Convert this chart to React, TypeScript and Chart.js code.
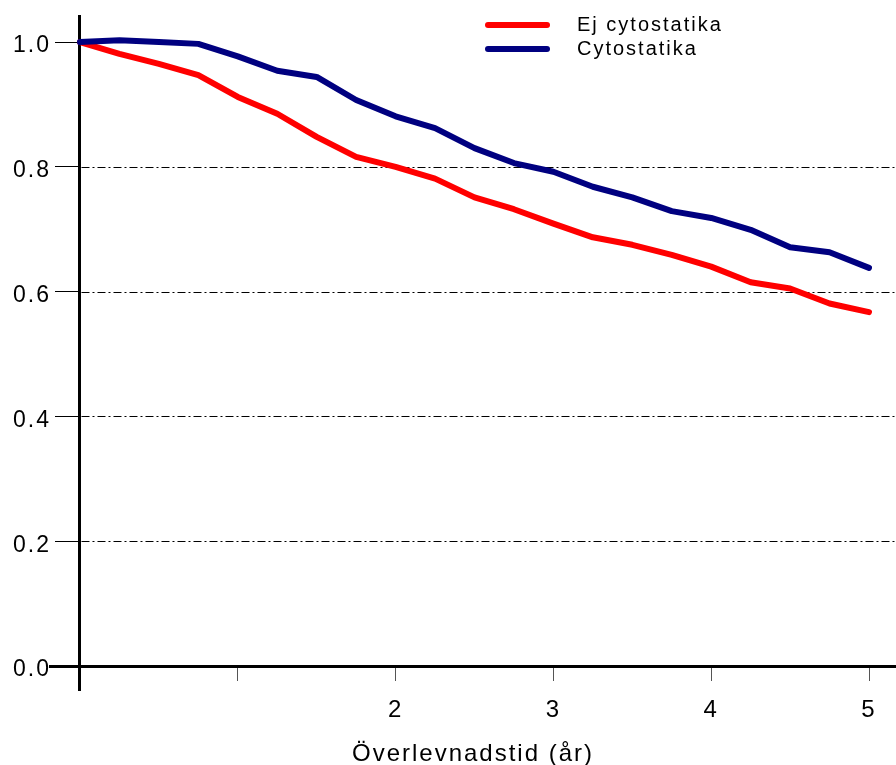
import { useEffect, useRef } from 'react';
import { Chart, registerables } from 'chart.js';

Chart.register(...registerables);

// ---- data ----
const YEARS = [0, 0.25, 0.5, 0.75, 1, 1.25, 1.5, 1.75, 2, 2.25, 2.5, 2.75, 3, 3.25, 3.5, 3.75, 4, 4.25, 4.5, 4.75, 5];
const EJ_CYTOSTATIKA = [1.0, 0.981, 0.965, 0.947, 0.912, 0.885, 0.848, 0.816, 0.8, 0.781, 0.751, 0.732, 0.709, 0.687, 0.675, 0.659, 0.64, 0.615, 0.605, 0.581, 0.567];
const CYTOSTATIKA = [1.0, 1.003, 1.0, 0.997, 0.977, 0.954, 0.944, 0.907, 0.881, 0.862, 0.83, 0.806, 0.792, 0.768, 0.751, 0.729, 0.718, 0.699, 0.671, 0.663, 0.638];
const SERIES_LABELS = ['Ej cytostatika', 'Cytostatika'];
const SERIES_COLORS = ['#ff0000', '#000080'];
const X_TICKS = [0, 1, 2, 3, 4, 5];
const X_TICK_LABELS = ['', '', '2', '3', '4', '5'];
const Y_TICKS = [0, 0.2, 0.4, 0.6, 0.8, 1.0];
const Y_TICK_LABELS = ['0.0', '0.2', '0.4', '0.6', '0.8', '1.0'];
const Y_GRID = [0.2, 0.4, 0.6, 0.8];
const X_TITLE = 'Överlevnadstid (år)';

const FONT = "'Liberation Sans', Arial, Helvetica, sans-serif";
const Y_MIN = -0.03846;
const Y_MAX = 1.04167;
const X_MIN = -0.1901;
const X_MAX = 5.1711;

const spacingPlugin = {
  id: 'spacing',
  beforeDraw(chart: any) {
    chart.ctx.letterSpacing = '2px';
  },
};

const dashGridPlugin = {
  id: 'dashGrid',
  beforeDatasetsDraw(chart: any) {
    const { ctx, chartArea, scales } = chart;
    const x0 = scales.x.getPixelForValue(0) + 1.5;
    ctx.save();
    ctx.strokeStyle = '#000';
    ctx.lineWidth = 1;
    ctx.setLineDash([8, 3, 2, 3]);
    Y_GRID.forEach((v) => {
      const y = Math.round(scales.y.getPixelForValue(v)) + 0.5;
      ctx.beginPath();
      ctx.moveTo(x0, y);
      ctx.lineTo(chartArea.right, y);
      ctx.stroke();
    });
    ctx.restore();
  },
};

const insideLegendPlugin = {
  id: 'insideLegend',
  afterDatasetsDraw(chart: any) {
    const { ctx, chartArea } = chart;
    ctx.save();
    ctx.font = `20px ${FONT}`;
    (ctx as any).letterSpacing = '2px';
    ctx.textAlign = 'left';
    ctx.textBaseline = 'alphabetic';
    ctx.fillStyle = '#000';
    chart.data.datasets.forEach((ds: any, i: number) => {
      const cy = chartArea.top + 9 + i * 24;
      ctx.strokeStyle = ds.borderColor;
      ctx.lineWidth = 6;
      ctx.lineCap = 'round';
      ctx.beginPath();
      ctx.moveTo(chartArea.right - 408, cy);
      ctx.lineTo(chartArea.right - 349, cy);
      ctx.stroke();
      ctx.fillText(ds.label, chartArea.right - 319, cy + 5.5);
    });
    ctx.restore();
  },
};

const noPad = (s: any) => {
  s.paddingTop = 0;
  s.paddingBottom = 0;
  s.paddingLeft = 0;
  s.paddingRight = 0;
};

export default function App() {
  const ref = useRef<HTMLCanvasElement | null>(null);

  useEffect(() => {
    if (!ref.current) return;
    Chart.defaults.font.family = FONT;
    Chart.defaults.color = '#000';
    const chart = new Chart(ref.current, {
      type: 'line',
      data: {
        datasets: [
          {
            label: SERIES_LABELS[0],
            data: YEARS.map((x, i) => ({ x, y: EJ_CYTOSTATIKA[i] })),
            borderColor: SERIES_COLORS[0],
            backgroundColor: SERIES_COLORS[0],
            borderWidth: 6,
            pointRadius: 0,
            tension: 0,
            borderJoinStyle: 'round',
            borderCapStyle: 'round',
            yAxisID: 'y',
            order: 2,
          },
          {
            label: SERIES_LABELS[1],
            data: YEARS.map((x, i) => ({ x, y: CYTOSTATIKA[i] })),
            borderColor: SERIES_COLORS[1],
            backgroundColor: SERIES_COLORS[1],
            borderWidth: 6,
            pointRadius: 0,
            tension: 0,
            borderJoinStyle: 'round',
            borderCapStyle: 'round',
            yAxisID: 'y',
            order: 1,
          },
        ],
      },
      options: {
        responsive: false,
        animation: false,
        layout: { padding: { left: 0, right: 0, top: 16, bottom: 75 } },
        plugins: { legend: { display: false }, tooltip: { enabled: false } },
        scales: {
          x: {
            type: 'linear',
            min: X_MIN,
            max: X_MAX,
            position: { y: 0 } as any,
            afterBuildTicks: (s: any) => {
              s.ticks = X_TICKS.map((v) => ({ value: v }));
            },
            afterFit: noPad,
            ticks: {
              callback: (_v: any, i: number) => X_TICK_LABELS[i],
              font: { size: 24 },
              color: '#000',
              padding: 17,
              maxRotation: 0,
              autoSkip: false,
            },
            grid: {
              display: true,
              drawOnChartArea: false,
              drawTicks: true,
              tickLength: 13,
              tickColor: '#555',
              tickWidth: 1,
            },
            border: { display: true, color: '#000', width: 3 },
            title: {
              display: true,
              text: X_TITLE,
              font: { size: 24 },
              color: '#000',
              padding: { top: -2, bottom: 0 },
            },
          },
          y: {
            type: 'linear',
            min: Y_MIN,
            max: Y_MAX,
            position: { x: 0 } as any,
            afterBuildTicks: (s: any) => {
              s.ticks = Y_TICKS.map((v) => ({ value: v }));
            },
            afterFit: noPad,
            ticks: { display: false },
            grid: {
              display: true,
              drawOnChartArea: false,
              drawTicks: true,
              tickLength: 23,
              tickColor: '#000',
              tickWidth: 1,
            },
            border: { display: true, color: '#000', width: 3 },
          },
          yLabels: {
            type: 'linear',
            min: Y_MIN,
            max: Y_MAX,
            position: 'left',
            afterBuildTicks: (s: any) => {
              s.ticks = Y_TICKS.map((v) => ({ value: v }));
            },
            afterFit: (s: any) => {
              noPad(s);
              s.width = 50;
            },
            ticks: {
              callback: (_v: any, i: number) => Y_TICK_LABELS[i],
              font: { size: 23 },
              color: '#000',
              padding: -1,
              labelOffset: 4,
              autoSkip: false,
            },
            grid: { display: false, drawTicks: false, tickLength: 0 },
            border: { display: false },
          },
        },
      },
      plugins: [spacingPlugin, dashGridPlugin, insideLegendPlugin],
    } as any);
    return () => chart.destroy();
  }, []);

  return (
    <div style={{ position: 'absolute', left: 0, top: 0, width: 896, height: 765, background: '#fff' }}>
      <canvas ref={ref} width={896} height={765} style={{ display: 'block' }} />
    </div>
  );
}
